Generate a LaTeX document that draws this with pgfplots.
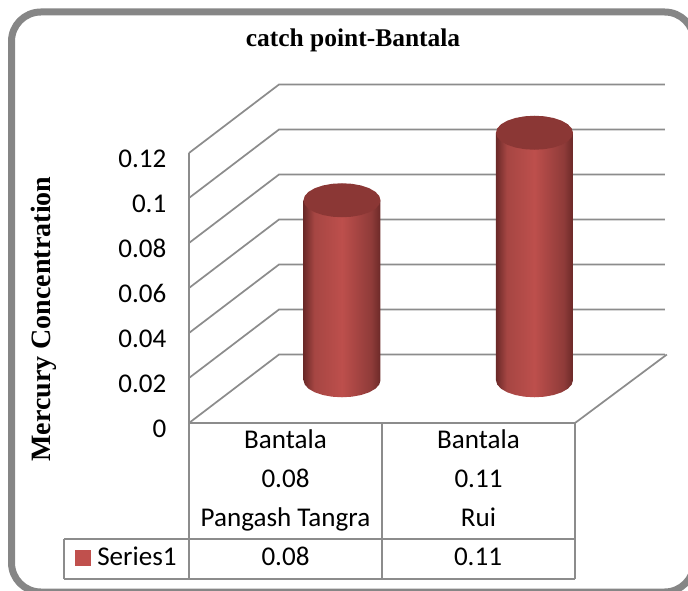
\documentclass[border=0pt]{standalone}
\usepackage{fontspec}
\setmainfont{Carlito}
\newfontfamily\headfont{Liberation Serif}
\usepackage{pgfplots}
\usepackage{pgfplotstable}
\pgfplotsset{compat=1.18}

\definecolor{linegray}{HTML}{8C8C8C}
\definecolor{framegray}{HTML}{868686}
\definecolor{captop}{HTML}{8B3735}
\definecolor{serieskey}{HTML}{C0504D}
\definecolor{cyledge}{HTML}{6B2928}
\definecolor{cylmid}{HTML}{A64643}
\definecolor{cylhigh}{HTML}{BD4F4C}
\definecolor{cylright}{HTML}{8F3B39}

% 25bp to 75bp is the part that falls inside the path
\pgfdeclarehorizontalshading{cylshade}{100bp}{
  color(0bp)=(cyledge);
  color(25bp)=(cyledge);
  color(32bp)=(cylmid);
  color(50bp)=(cylhigh);
  color(69bp)=(cylright);
  color(75bp)=(cyledge);
  color(100bp)=(cyledge)
}

% outline of cylinder: u,w = unit ellipse, t = 1 at the top, 0 at the base
\pgfplotstableread{
u w t
-1 0 1
-1 0 0
-0.966 -0.259 0
-0.866 -0.5 0
-0.707 -0.707 0
-0.5 -0.866 0
-0.259 -0.966 0
0 -1 0
0.259 -0.966 0
0.5 -0.866 0
0.707 -0.707 0
0.866 -0.5 0
0.966 -0.259 0
1 0 0
1 0 1
}\cylbody

\pgfplotstableread{
u w
-1 0
-0.966 -0.259
-0.866 -0.5
-0.707 -0.707
-0.5 -0.866
-0.259 -0.966
0 -1
0.259 -0.966
0.5 -0.866
0.707 -0.707
0.866 -0.5
0.966 -0.259
1 0
0.966 0.259
0.866 0.5
0.707 0.707
0.5 0.866
0.259 0.966
0 1
-0.259 0.966
-0.5 0.866
-0.707 0.707
-0.866 0.5
-0.966 0.259
}\cyltop

\newcommand{\cyl}[2]{%
  \addplot[draw=none, shading=cylshade] table[
    x expr={#1+0.1995*\thisrow{u}},
    y expr={0.019+#2*\thisrow{t}+0.00756*\thisrow{w}}] {\cylbody} -- cycle;
  \addplot[draw=none, fill=captop] table[
    x expr={#1+0.1995*\thisrow{u}},
    y expr={0.019+#2+0.00756*\thisrow{w}}] {\cyltop} -- cycle;
}
% #1 front height, #2 the same height on the back wall
\newcommand{\gridl}[2]{%
  \addplot[linegray, line width=1.3pt] coordinates {(-0.5,#1) (-0.0337,#2) (1.966,#2)};
}

\newcommand{\tickfont}{\fontsize{20.3}{29.1}\selectfont}

\begin{document}
\begin{tikzpicture}
\begin{scope}[x=0.75pt,y=-0.75pt,yshift=442.5pt]
  % outer frame, runs off the page on the right and bottom
  \draw[framegray, line width=5.25pt, rounded corners=22pt] (11.5,12) rectangle (694,592);
  % data table
  \draw[linegray, line width=1.3pt] (189,423) -- (189,579) (382,423) -- (382,579) (575,423) -- (575,579)
    (64,539) -- (575,539) (64,579) -- (575,579) (64,539) -- (64,579);
  \fill[serieskey] (75,550) rectangle (91,566);
  \node[font=\tickfont, anchor=base west, inner sep=0pt] at (97,565) {Series1};
  \node[font=\tickfont, anchor=base, inner sep=0pt] at (285.5,565) {0.08};
  \node[font=\tickfont, anchor=base, inner sep=0pt] at (478,565) {0.11};
\end{scope}
\begin{axis}[
   at={(141.75pt,125.25pt)},
   anchor=south west,
   scale only axis,
   width=289.5pt,
   height=202.5pt,
   xmin=-0.5, xmax=1.5,
   ymin=0, ymax=0.12,
   clip=false,
   axis line style={draw=none},
   tick style={draw=none},
   xtick={0,1},
   xticklabels={{Bantala\\0.08\\Pangash Tangra},{Bantala\\0.11\\Rui}},
   xticklabel style={align=center, font=\tickfont, yshift=-1.6pt},
   ytick={0,0.02,0.04,0.06,0.08,0.1,0.12},
   scaled y ticks=false,
   yticklabel style={font=\tickfont, /pgf/number format/fixed, /pgf/number format/precision=2,
     /pgf/number format/assume math mode=true, xshift=-13.5pt, yshift=-4.2pt},
   title={\headfont\bfseries\fontsize{19.1}{22}\selectfont catch point-Bantala},
   title style={at={(axis description cs:0.425,1.389)}, anchor=center},
   ylabel={\headfont\bfseries\fontsize{21}{24}\selectfont Mercury Concentration},
   ylabel style={at={(axis description cs:-0.376,0.385)}, anchor=center},
 ]
   % back wall and side wall lines
   \gridl{0.12}{0.15044}
   \gridl{0.10}{0.13044}
   \gridl{0.08}{0.11044}
   \gridl{0.06}{0.09044}
   \gridl{0.04}{0.07044}
   \gridl{0.02}{0.05044}
   \gridl{0}{0.03044}
   \addplot[linegray, line width=1.3pt] coordinates {(-0.5,0) (-0.5,0.12)};
   \addplot[linegray, line width=1.3pt] coordinates {(-0.5,0) (1.5,0) (1.976,0.03044)};
   \cyl{0.2927}{0.08}
   \cyl{1.2900}{0.11}
\end{axis}
\pgfresetboundingbox
\path[use as bounding box] (0,0) rectangle (516pt,442.5pt);
\end{tikzpicture}
\end{document}
